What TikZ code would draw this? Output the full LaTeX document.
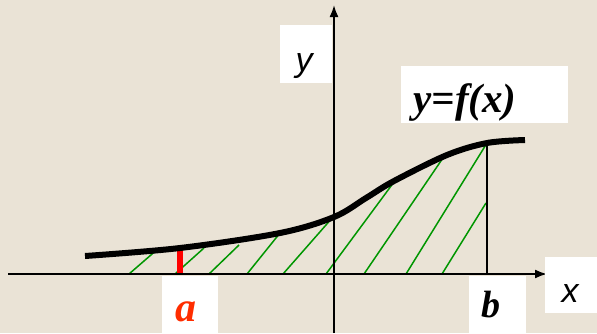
\documentclass[tikz,border=0pt]{standalone}
\usepackage{fontspec}
\setmainfont{Liberation Serif}
\newfontfamily\arialfont{Liberation Sans}
\usetikzlibrary{arrows.meta}
\definecolor{bg}{RGB}{234,227,214}
\definecolor{hatch}{RGB}{0,150,0}
\definecolor{ared}{RGB}{255,45,0}
\begin{document}
\begin{tikzpicture}[x=1pt,y=-1pt,
  box/.style={fill=white,draw=none,inner sep=0pt,anchor=north west},
  axis/.style={line width=1.8pt,-{Latex[length=12pt,width=9pt]}},
  hatchline/.style={hatch,line width=1.5pt},
  serifbi/.style={font=\bfseries\itshape\fontsize{36}{36}\selectfont,anchor=base,inner sep=0pt},
  sansi/.style={font=\arialfont\itshape\fontsize{34}{34}\selectfont,anchor=base,inner sep=0pt}]
\fill[bg] (0,0) rectangle (597,333);
\useasboundingbox (0,0) rectangle (597,333);
% hatch
\foreach \xa/\xb/\yb [count=\i] in {129/159/248,175/204/248,209/239/245,247/280/233,283/333/217,326/394/182,364/445/155,406/487/143,442/486/203}{
  \coordinate (h\i s) at (\xa,274);
  \coordinate (h\i e) at (\xb,\yb);
  \draw[hatchline] (h\i s) -- (h\i e);
}
% red bar at a
\coordinate (ra) at (180,275);
\coordinate (rb) at (180,246);
\draw[red,line width=6.5pt] (ra) -- (rb);
% axes
\coordinate (xs) at (8,274);
\coordinate (xe) at (547,274);
\coordinate (ys) at (334,333);
\coordinate (ye) at (334,5);
\draw[axis] (xs) -- (xe);
\draw[axis] (ys) -- (ye);
% b line
\coordinate (bt) at (487,143);
\coordinate (bb) at (487,274);
\draw[line width=1.8pt] (bt) -- (bb);
% curve
\draw[line width=6pt] plot[smooth,tension=0.55] coordinates {(85,256) (180,248) (280,233) (334,217) (366,198) (394,181) (447,155) (487,143) (525,140)};
% white boxes
\node[box,minimum width=52pt,minimum height=58pt] (ybox) at (280,25) {};
\node[box,minimum width=167pt,minimum height=57pt] (fbox) at (401,66) {};
\node[box,minimum width=56pt,minimum height=57pt] (abox) at (162,276) {};
\node[box,minimum width=57pt,minimum height=57pt] (bbox) at (469,276) {};
\node[box,minimum width=52pt,minimum height=56pt] (xbox) at (545,257) {};
% labels
\node[sansi] (ylab) at (304,71) {y};
\node[serifbi,font=\bfseries\itshape\fontsize{41}{41}\selectfont] (flab) at (465,112) {y=f(x)};
\node[serifbi,text=ared,font=\bfseries\itshape\fontsize{42}{42}\selectfont] (alab) at (186,321) {a};
\node[serifbi,font=\bfseries\itshape\fontsize{38}{38}\selectfont] (blab) at (491,317) {b};
\node[sansi] (xlab) at (570,302) {x};
\end{tikzpicture}
\end{document}
